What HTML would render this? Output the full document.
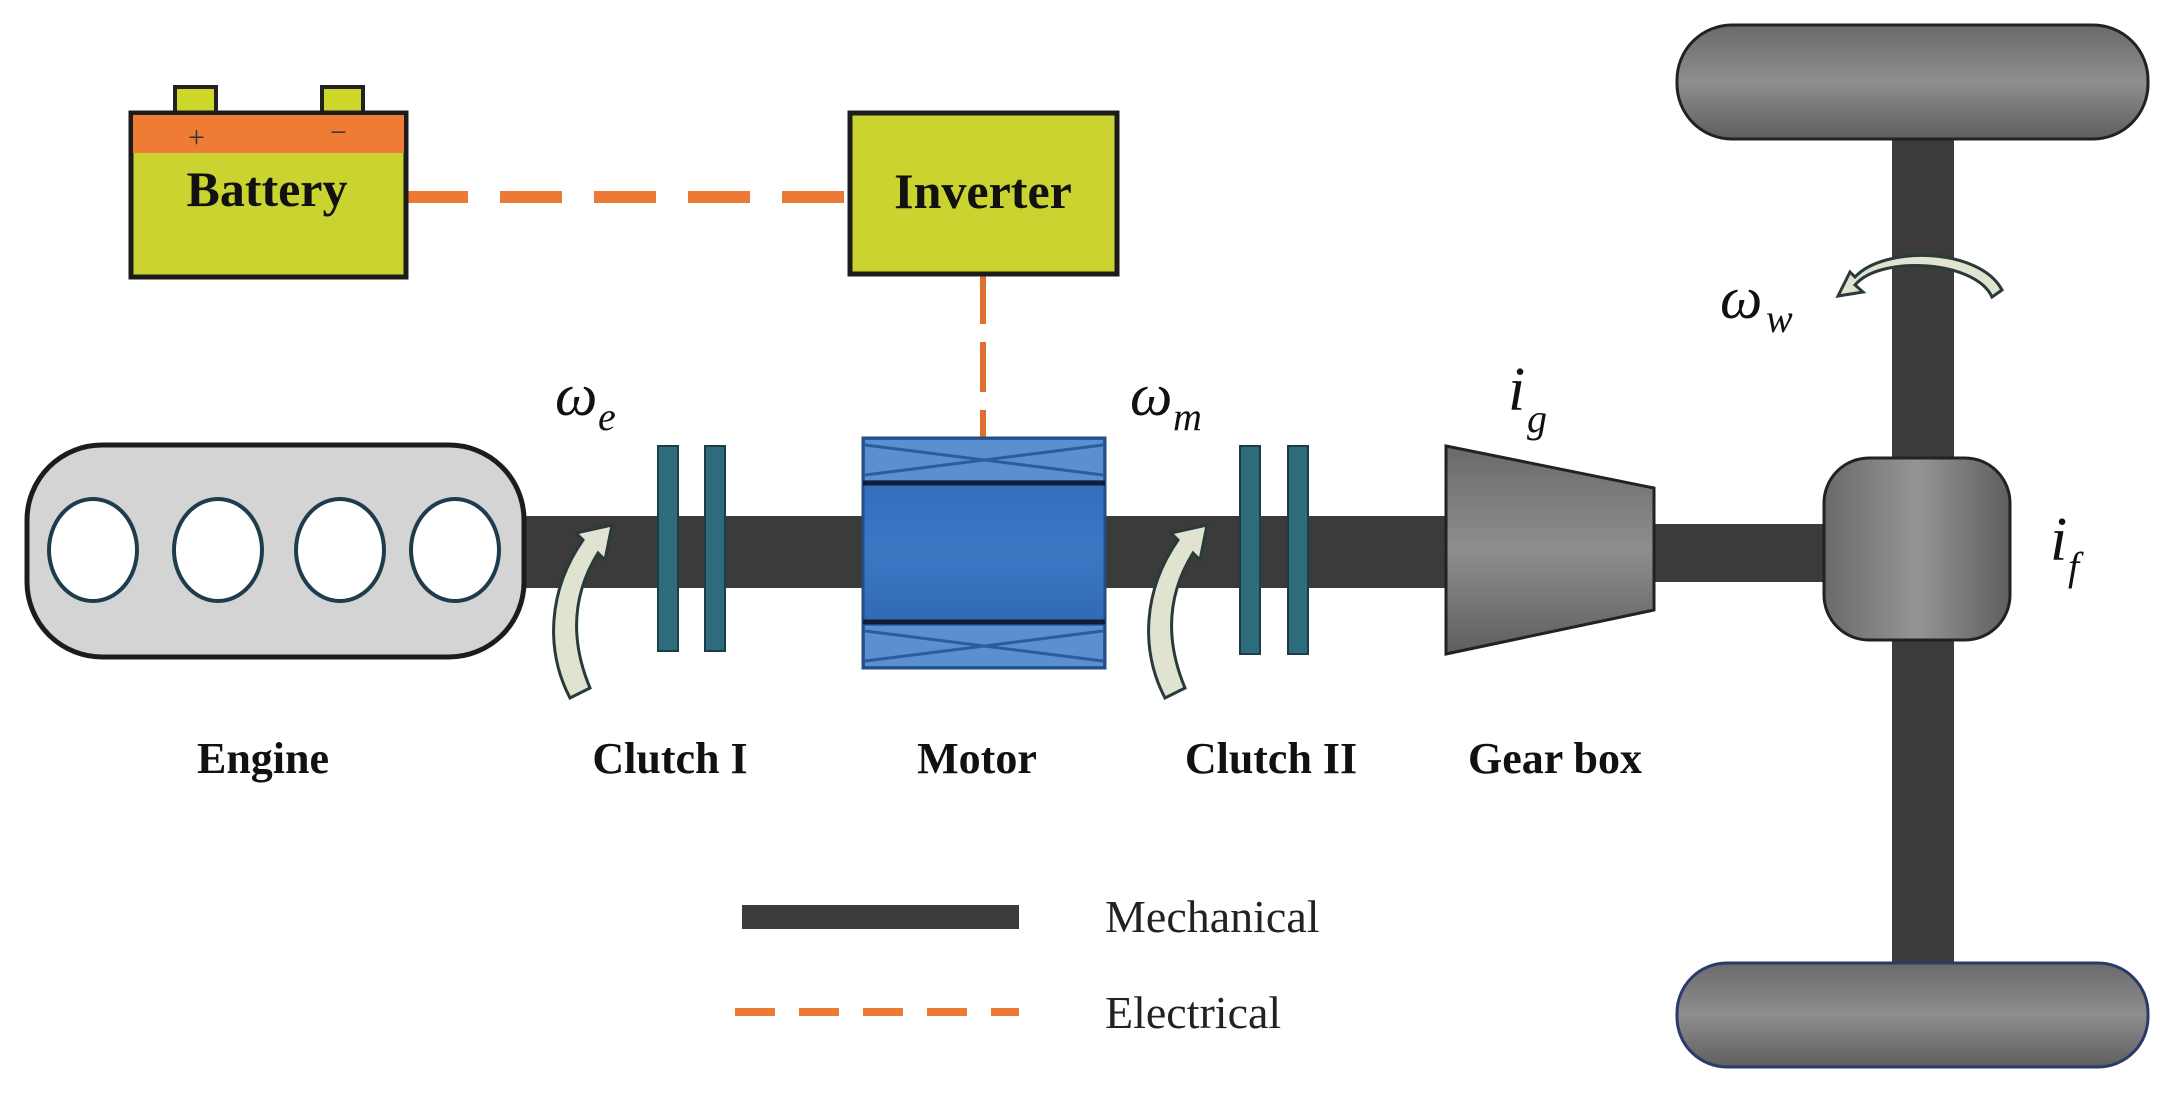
<!DOCTYPE html>
<html><head><meta charset="utf-8"><style>
html,body{margin:0;padding:0;background:#fff;}
svg{display:block;}
.lbl{font-family:"Liberation Serif",serif;font-weight:bold;font-size:44px;fill:#111;}
.leg{font-family:"Liberation Serif",serif;font-size:46px;fill:#222;}
.gr{font-family:"Liberation Serif",serif;font-style:italic;fill:#111;}
</style></head><body>
<svg width="2173" height="1102" viewBox="0 0 2173 1102" xmlns="http://www.w3.org/2000/svg">
<defs>
<linearGradient id="gy" x1="0" y1="0" x2="0" y2="1"><stop offset="0" stop-color="#6a6a6a"/><stop offset="0.5" stop-color="#8e8e8e"/><stop offset="1" stop-color="#5e5e5e"/></linearGradient>
<linearGradient id="gx" x1="0" y1="0" x2="1" y2="0"><stop offset="0" stop-color="#6a6a6a"/><stop offset="0.5" stop-color="#959595"/><stop offset="1" stop-color="#5e5e5e"/></linearGradient>
<linearGradient id="bl" x1="0" y1="0" x2="0" y2="1"><stop offset="0" stop-color="#2f65b8"/><stop offset="0.5" stop-color="#3a78c4"/><stop offset="1" stop-color="#2c5fae"/></linearGradient>
</defs>
<!-- electrical dashed -->
<line x1="406" y1="197" x2="848" y2="197" stroke="#ec7a35" stroke-width="12" stroke-dasharray="62,32"/>
<line x1="983" y1="274" x2="983" y2="441" stroke="#e0702f" stroke-width="6" stroke-dasharray="50,18"/>
<!-- battery -->
<rect x="175" y="87" width="41" height="26" fill="#ccd72a" stroke="#222" stroke-width="4"/>
<rect x="322" y="87" width="41" height="26" fill="#ccd72a" stroke="#222" stroke-width="4"/>
<rect x="131" y="113" width="275" height="164" fill="#cad32f" stroke="#1c1c1c" stroke-width="5"/>
<rect x="133" y="115" width="271" height="38" fill="#ee7c35"/>
<text x="188" y="147" font-family="Liberation Serif" font-size="30" fill="#333">+</text>
<text x="330" y="142" font-family="Liberation Serif" font-size="30" fill="#333">−</text>
<text x="267" y="206" text-anchor="middle" font-family="Liberation Serif" font-weight="bold" font-size="50" fill="#111">Battery</text>
<!-- inverter -->
<rect x="850" y="113" width="267" height="161" fill="#cad32f" stroke="#1c1c1c" stroke-width="5"/>
<text x="983" y="208" text-anchor="middle" font-family="Liberation Serif" font-weight="bold" font-size="50" fill="#111">Inverter</text>
<!-- shafts -->
<rect x="520" y="516" width="930" height="72" fill="#3b3b3b"/>
<rect x="1650" y="524" width="180" height="58" fill="#3b3b3b"/>
<rect x="1892" y="132" width="62" height="832" fill="#3b3b3b"/>
<!-- engine -->
<rect x="27" y="445" width="497" height="212" rx="75" fill="#d4d4d4" stroke="#1c1c1c" stroke-width="5"/>
<g fill="#fff" stroke="#1f3c4c" stroke-width="4">
<ellipse cx="93" cy="550" rx="44" ry="51"/><ellipse cx="218" cy="550" rx="44" ry="51"/>
<ellipse cx="340" cy="550" rx="44" ry="51"/><ellipse cx="455" cy="550" rx="44" ry="51"/>
</g>
<!-- clutch I -->
<rect x="658" y="446" width="20" height="205" fill="#2e6b7d" stroke="#1a3d48" stroke-width="2"/>
<rect x="705" y="446" width="20" height="205" fill="#2e6b7d" stroke="#1a3d48" stroke-width="2"/>
<!-- clutch II -->
<rect x="1240" y="446" width="20" height="208" fill="#2e6b7d" stroke="#1a3d48" stroke-width="2"/>
<rect x="1288" y="446" width="20" height="208" fill="#2e6b7d" stroke="#1a3d48" stroke-width="2"/>
<!-- motor -->
<rect x="863" y="438" width="242" height="230" fill="url(#bl)" stroke="#234f86" stroke-width="3"/>
<rect x="865" y="440" width="238" height="40" fill="#5a8fd0"/>
<rect x="865" y="626" width="238" height="40" fill="#5a8fd0"/>
<path d="M865 445 L1103 475 M865 475 L1103 445 M865 631 L1103 661 M865 661 L1103 631" stroke="#2a5d9a" stroke-width="3"/>
<line x1="863" y1="483" x2="1105" y2="483" stroke="#111d36" stroke-width="5"/>
<line x1="863" y1="622" x2="1105" y2="622" stroke="#111d36" stroke-width="5"/>
<!-- gearbox -->
<polygon points="1446,446 1654,488 1654,610 1446,654" fill="url(#gy)" stroke="#222" stroke-width="3"/>
<!-- differential -->
<rect x="1824" y="458" width="186" height="182" rx="45" fill="url(#gx)" stroke="#222" stroke-width="3"/>
<!-- wheels -->
<rect x="1677" y="25" width="471" height="114" rx="55" fill="url(#gy)" stroke="#222" stroke-width="3"/>
<rect x="1677" y="963" width="471" height="104" rx="50" fill="url(#gy)" stroke="#2a3a6a" stroke-width="3"/>
<!-- rotation arrows -->
<path d="M570 698 C545 650 548 590 583 540 L576 533 L612 525 L605 560 L598 553 C572 595 570 640 590 688 Z" fill="#dfe3d0" stroke="#2a3a3a" stroke-width="3"/>
<path d="M1165 698 C1140 650 1143 590 1178 540 L1171 533 L1207 525 L1200 560 L1193 553 C1167 595 1165 640 1185 688 Z" fill="#dfe3d0" stroke="#2a3a3a" stroke-width="3"/>
<path d="M1992 297 C1975 260 1880 255 1855 285 L1863 292 L1838 296 L1850 272 L1855 277 C1885 245 1980 248 2002 290 Z" fill="#dfe3d0" stroke="#2a3a3a" stroke-width="3"/>
<!-- greek labels -->
<text x="555" y="415" class="gr" font-size="60">ω</text><text x="598" y="430" class="gr" font-size="40">e</text>
<text x="1130" y="415" class="gr" font-size="60">ω</text><text x="1173" y="430" class="gr" font-size="40">m</text>
<text x="1508" y="410" class="gr" font-size="62">i</text><text x="1527" y="432" class="gr" font-size="40">g</text>
<text x="1720" y="318" class="gr" font-size="60">ω</text><text x="1766" y="332" class="gr" font-size="40">w</text>
<text x="2050" y="560" class="gr" font-size="62">i</text><text x="2068" y="580" class="gr" font-size="40">f</text>
<!-- labels -->
<text x="263" y="773" text-anchor="middle" class="lbl">Engine</text>
<text x="670" y="773" text-anchor="middle" class="lbl">Clutch I</text>
<text x="977" y="773" text-anchor="middle" class="lbl">Motor</text>
<text x="1271" y="773" text-anchor="middle" class="lbl">Clutch II</text>
<text x="1555" y="773" text-anchor="middle" class="lbl">Gear box</text>
<!-- legend -->
<rect x="742" y="905" width="277" height="24" fill="#3b3b3b"/>
<text x="1105" y="932" class="leg">Mechanical</text>
<line x1="735" y1="1012" x2="1019" y2="1012" stroke="#ec7a35" stroke-width="8" stroke-dasharray="40,24"/>
<text x="1105" y="1028" class="leg">Electrical</text>
</svg>
</body></html>
